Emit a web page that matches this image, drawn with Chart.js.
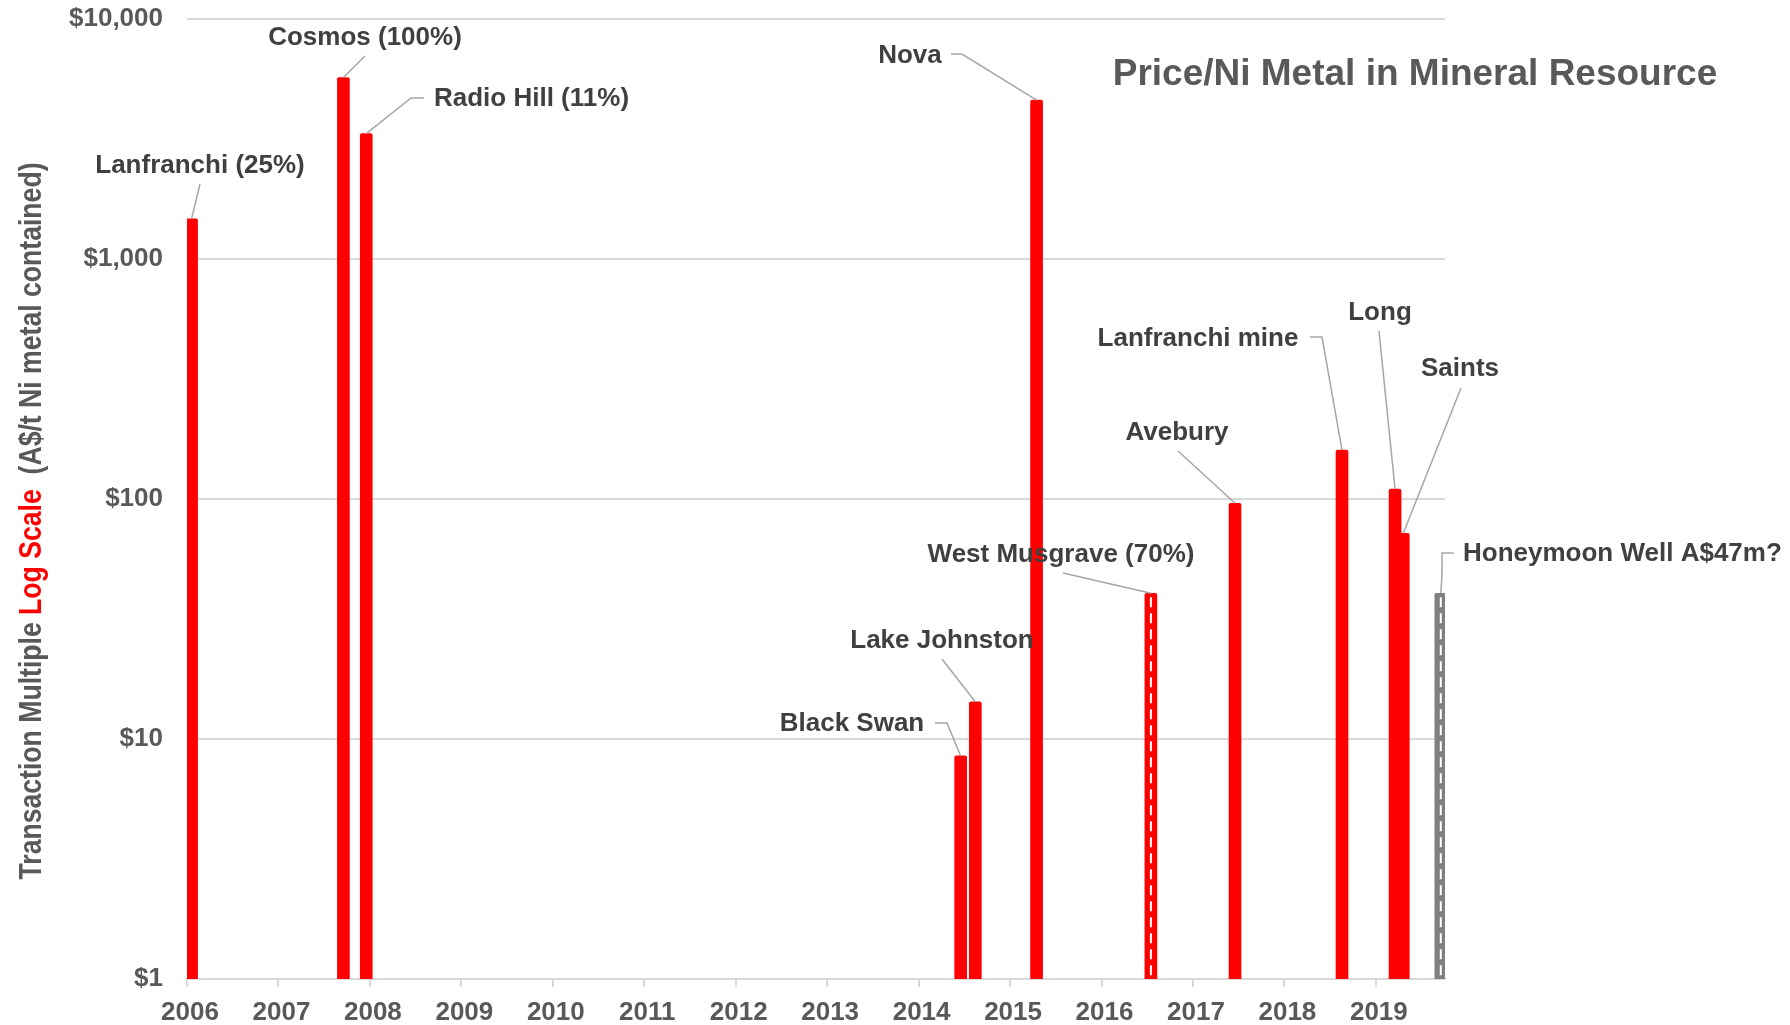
<!DOCTYPE html>
<html>
<head>
<meta charset="utf-8">
<title>Price/Ni Metal in Mineral Resource</title>
<script src="https://cdn.jsdelivr.net/npm/chart.js@4.4.1/dist/chart.umd.min.js"></script>
<style>
  html, body { margin: 0; padding: 0; background: #ffffff; }
  #wrap { width: 1790px; height: 1025px; position: relative; }
</style>
</head>
<body>
<div id="wrap"><canvas id="chart"></canvas></div>
<script>
// ---------------- DATA ----------------
const dealNames = [
  'Lanfranchi (25%)', 'Cosmos (100%)', 'Radio Hill (11%)', 'Black Swan', 'Lake Johnston',
  'Nova', 'West Musgrave (70%)', 'Avebury', 'Lanfranchi mine', 'Long', 'Saints',
  'Honeymoon Well A$47m?'
];
// decimal year of each transaction
const dealDates = [2006.05, 2007.71, 2007.96, 2014.46, 2014.62, 2015.29, 2016.54, 2017.46, 2018.63, 2019.21, 2019.30, 2019.71];
// A$/t Ni metal contained
const dealValues = [1470, 5700, 3330, 8.5, 14.3, 4590, 40.5, 96, 160, 110, 72, 40.5];
// 'done' = completed, 'partial' = hatched red, 'pending' = grey proposed
const dealStatus = ['done', 'done', 'done', 'done', 'done', 'done', 'partial', 'done', 'done', 'done', 'done', 'pending'];
const yearTicks = [2006, 2007, 2008, 2009, 2010, 2011, 2012, 2013, 2014, 2015, 2016, 2017, 2018, 2019];
const yTickValues = [1, 10, 100, 1000, 10000];

// ---------------- LAYOUT / STYLE ----------------
const FONT = "'Liberation Sans', Arial, Helvetica, sans-serif";
const statusColor = { done: '#ff0000', partial: '#ff0000', pending: '#808080' };
// label text anchors and leader-line waypoints (pixels); the line ends at the bar top
const labelLayout = [
  { tx: 200, ty: 166, align: 'center', path: [[200, 184]] },
  { tx: 365, ty: 38, align: 'center', path: [[365, 56]] },
  { tx: 434, ty: 99, align: 'left', path: [[424, 98], [411, 98]] },
  { tx: 852, ty: 724, align: 'center', path: [[935, 723], [947, 723]] },
  { tx: 942, ty: 641, align: 'center', path: [[942, 659]] },
  { tx: 910, ty: 56, align: 'center', path: [[951, 54], [962, 54]] },
  { tx: 1061, ty: 555, align: 'center', path: [[1063, 573]] },
  { tx: 1177, ty: 433, align: 'center', path: [[1178, 451]] },
  { tx: 1198, ty: 339, align: 'center', path: [[1310, 337], [1322, 337]] },
  { tx: 1380, ty: 313, align: 'center', path: [[1379, 331]] },
  { tx: 1460, ty: 369, align: 'center', path: [[1461, 388]] },
  { tx: 1463, ty: 554, align: 'left', path: [[1454, 553], [1442, 553], [1442, 575]] }
];

const points = dealDates.map((d, i) => ({ x: d, y: dealValues[i] }));

// hatch: white dashed stripe down the middle of partial / pending bars
const hatchPlugin = {
  id: 'hatch',
  afterDatasetsDraw(chart) {
    const meta = chart.getDatasetMeta(0);
    const ctx = chart.ctx;
    ctx.save();
    ctx.strokeStyle = '#ffffff';
    ctx.lineWidth = 2;
    ctx.setLineDash([10, 6]);
    meta.data.forEach((el, i) => {
      if (dealStatus[i] === 'done') return;
      ctx.beginPath();
      ctx.moveTo(el.x, el.y + 4);
      ctx.lineTo(el.x, el.base - 2);
      ctx.stroke();
    });
    ctx.restore();
  }
};

// labels with leader lines
const labelPlugin = {
  id: 'dealLabels',
  afterDatasetsDraw(chart) {
    const meta = chart.getDatasetMeta(0);
    const ctx = chart.ctx;
    ctx.save();
    ctx.strokeStyle = '#a6a6a6';
    ctx.lineWidth = 1.5;
    meta.data.forEach((el, i) => {
      const L = labelLayout[i];
      ctx.beginPath();
      ctx.moveTo(L.path[0][0], L.path[0][1]);
      for (let k = 1; k < L.path.length; k++) ctx.lineTo(L.path[k][0], L.path[k][1]);
      ctx.lineTo(el.x, el.y);
      ctx.stroke();
    });
    ctx.fillStyle = '#404040';
    ctx.font = 'bold 26px ' + FONT;
    ctx.textBaseline = 'middle';
    dealNames.forEach((name, i) => {
      const L = labelLayout[i];
      ctx.textAlign = L.align;
      ctx.fillText(name, L.tx, L.ty);
    });
    // chart title
    ctx.fillStyle = '#595959';
    ctx.font = 'bold 37px ' + FONT;
    ctx.textAlign = 'center';
    ctx.fillText('Price/Ni Metal in Mineral Resource', 1415, 75);
    ctx.restore();
  }
};

// multi-coloured, narrow y-axis title
const yTitlePlugin = {
  id: 'yTitle',
  afterDraw(chart) {
    const ctx = chart.ctx;
    const parts = [
      ['Transaction Multiple ', '#595959'],
      ['Log Scale', '#ff0000'],
      ['  (A$/t Ni metal contained)', '#595959']
    ];
    ctx.save();
    ctx.font = 'bold 31px ' + FONT;
    const total = parts.reduce((s, p) => s + ctx.measureText(p[0]).width, 0);
    const targetLen = 717;
    ctx.translate(41, 521);
    ctx.rotate(-Math.PI / 2);
    ctx.scale(targetLen / total, 1);
    ctx.textBaseline = 'alphabetic';
    ctx.textAlign = 'left';
    let x = -total / 2;
    parts.forEach(p => {
      ctx.fillStyle = p[1];
      ctx.fillText(p[0], x, 0);
      x += ctx.measureText(p[0]).width;
    });
    ctx.restore();
  }
};

new Chart(document.getElementById('chart'), {
  type: 'bar',
  data: {
    datasets: [{
      data: points,
      backgroundColor: dealStatus.map(s => statusColor[s]),
      borderWidth: 0,
      barThickness: 12,
      borderRadius: { topLeft: 2, topRight: 2 },
      borderSkipped: 'bottom'
    }]
  },
  options: {
    responsive: true,
    maintainAspectRatio: false,
    animation: false,
    devicePixelRatio: 1,
    layout: { padding: { top: 19, right: 345, left: 0, bottom: 0 } },
    plugins: {
      legend: { display: false },
      tooltip: { enabled: false },
      title: { display: false }
    },
    scales: {
      x: {
        type: 'linear',
        min: 2006,
        max: 2019.756,
        offset: false,
        afterBuildTicks: s => { s.ticks = yearTicks.map(v => ({ value: v })); },
        afterFit: s => { s.height = 46; s.paddingLeft = 0; s.paddingRight = 0; },
        ticks: {
          autoSkip: false,
          maxRotation: 0,
          padding: 10,
          labelOffset: 3,
          color: '#595959',
          font: { family: FONT, size: 26, weight: 'bold' },
          callback: v => String(v)
        },
        grid: { offset: false, drawOnChartArea: false, drawTicks: true, tickLength: 8, color: '#d9d9d9', lineWidth: 2 },
        border: { display: true, color: '#d9d9d9', width: 2 }
      },
      y: {
        type: 'logarithmic',
        min: 1,
        max: 10000,
        afterBuildTicks: s => { s.ticks = yTickValues.map(v => ({ value: v })); },
        afterFit: s => { s.width = 187; s.paddingTop = 0; s.paddingBottom = 0; },
        ticks: {
          padding: 24,
          color: '#595959',
          font: { family: FONT, size: 26, weight: 'bold' },
          callback: v => '$' + Number(v).toLocaleString('en-US')
        },
        grid: { drawTicks: false, tickLength: 0, color: '#d9d9d9', lineWidth: 2 },
        border: { display: false }
      }
    }
  },
  plugins: [hatchPlugin, labelPlugin, yTitlePlugin]
});
</script>
</body>
</html>
